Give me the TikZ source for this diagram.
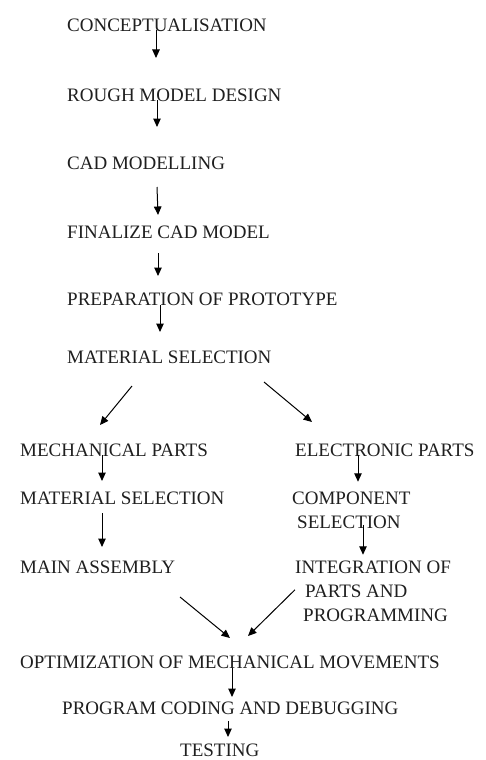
\documentclass[tikz,border=0pt]{standalone}
\usepackage{fontspec}
\setmainfont{Liberation Serif}
\usetikzlibrary{calc,arrows.meta}
\begin{document}
\begin{tikzpicture}[x=1pt,y=-1pt,
  lbl/.style={anchor=west,inner sep=0pt,text height=12.5pt,text depth=0pt,
    font=\fontsize{19}{24}\selectfont,text=black!88},
  mlbl/.style={anchor=north west,inner sep=0pt,align=left,
    font=\fontsize{19}{24}\selectfont,text=black!88},
  arr/.style={draw=black,line width=1pt,-{Triangle[length=8.5pt,width=7.5pt]}}]
\useasboundingbox[fill=white] (0,0) rectangle (486,760);
\node[lbl] (c1) at (67,25) {CONCEPTUALISATION};
\node[lbl] (c2) at (67,95) {ROUGH MODEL DESIGN};
\node[lbl] (c3) at (67,163) {CAD MODELLING};
\node[lbl] (c4) at (67,232) {FINALIZE CAD MODEL};
\node[lbl] (c5) at (67,299) {PREPARATION OF PROTOTYPE};
\node[lbl] (c6) at (67,357) {MATERIAL SELECTION};
\node[lbl] (m1) at (20,450) {MECHANICAL PARTS};
\node[lbl] (e1) at (295,450) {ELECTRONIC PARTS};
\node[lbl] (m2) at (20,498) {MATERIAL SELECTION};
\node[mlbl] (e2) at (292,491.75) {COMPONENT\\\hspace{5pt}SELECTION};
\node[lbl] (m3) at (20,567) {MAIN ASSEMBLY};
\node[mlbl] (e3) at (295,560.75) {INTEGRATION OF\\\hspace{10pt}PARTS AND\\\hspace{8pt}PROGRAMMING};
\node[lbl] (o) at (20,662) {OPTIMIZATION OF MECHANICAL MOVEMENTS};
\node[lbl] (p) at (62,708) {PROGRAM CODING AND DEBUGGING};
\node[lbl] (t) at (180,750) {TESTING};

\draw[arr] ($(c1.west)+(89,5)$) -- ($(c2.west)+(89,-37)$);
\draw[arr] ($(c2.west)+(90,5)$) -- ($(c3.west)+(90,-36)$);
\draw[arr] ($(c3.west)+(90,24)$) -- ($(c4.west)+(91,-17)$);
\draw[arr] ($(c4.west)+(91,21)$) -- ($(c5.west)+(91,-23)$);
\draw[arr] ($(c5.west)+(93,6)$) -- ($(c6.west)+(93,-25)$);
\draw[arr] ($(c6.west)+(65,29)$) -- ($(m1.west)+(80,-25)$);
\draw[arr] ($(c6.west)+(197,25)$) -- ($(e1.west)+(17,-28)$);
\draw[arr] ($(m1.west)+(82,5)$) -- ($(m2.west)+(82,-17)$);
\draw[arr] ($(e1.west)+(63,5)$) -- ($(e2.north west)+(66,-10)$);
\draw[arr] ($(m2.west)+(82,15)$) -- ($(m3.west)+(82,-20)$);
\draw[arr] ($(e2.north west)+(71,33)$) -- ($(e3.north west)+(68,-6)$);
\draw[arr] ($(m3.west)+(160,30)$) -- ($(o.west)+(210,-24)$);
\draw[arr] ($(e3.north west)+(0,29)$) -- ($(o.west)+(228,-26)$);
\draw[arr] ($(o.west)+(212,6)$) -- ($(p.west)+(170,-11)$);
\draw[arr] ($(p.west)+(166,13)$) -- ($(t.west)+(48,-13)$);
\end{tikzpicture}
\end{document}
